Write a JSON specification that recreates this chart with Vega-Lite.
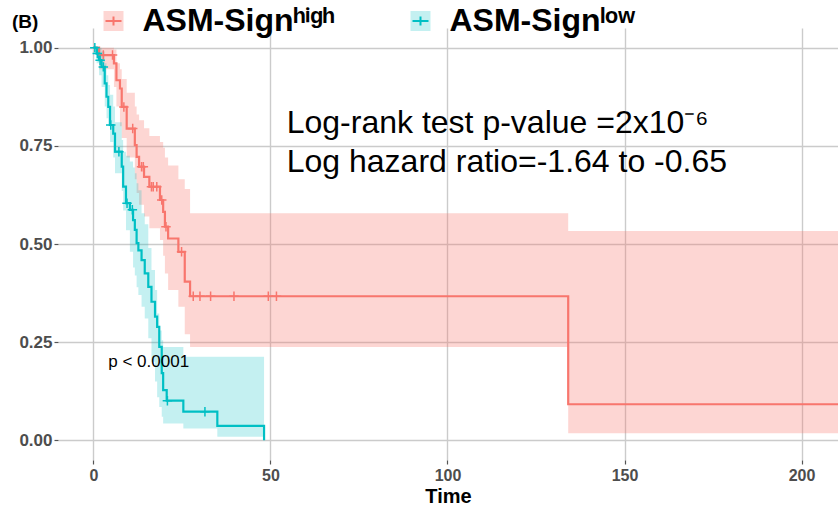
{
  "$schema": "https://vega.github.io/schema/vega-lite/v6.json",
  "width": 780,
  "height": 432,
  "autosize": {"type": "none"},
  "padding": {"left": 58, "top": 28, "right": 0, "bottom": 49},
  "background": "white",
  "title": {"text": "(B)", "anchor": "start", "frame": "group", "orient": "top", "offset": 0, "dx": -46, "dy": 27, "fontSize": 19, "fontWeight": "bold", "font": "Liberation Sans", "color": "#000000"},
  "config": {
    "view": {"stroke": null},
    "font": "Liberation Sans",
    "axis": {"grid": true, "gridColor": "#CBCBCB", "gridWidth": 1.4, "domain": false, "tickColor": "#555555", "tickSize": 4, "tickWidth": 1.2, "labelFont": "Liberation Sans", "labelFontWeight": "bold", "labelFontSize": 16, "labelColor": "#4D4D4D", "titleFont": "Liberation Sans", "titleFontWeight": "bold", "titleFontSize": 20, "titleColor": "#000000"},
    "axisY": {"labelPadding": 2, "format": ".2f", "labelFontSize": 17},
    "axisX": {"labelPadding": 3, "titlePadding": 3}
  },
  "datasets": {
    "bands": [
      {"time": 0, "lower": 1, "upper": 1, "grp": "high CI"},
      {"time": 1.6, "lower": 0.945, "upper": 1, "grp": "high CI"},
      {"time": 5.8, "lower": 0.9, "upper": 0.995, "grp": "high CI"},
      {"time": 6.5, "lower": 0.85, "upper": 0.96, "grp": "high CI"},
      {"time": 7.5, "lower": 0.8, "upper": 0.945, "grp": "high CI"},
      {"time": 8.0, "lower": 0.77, "upper": 0.92, "grp": "high CI"},
      {"time": 9.4, "lower": 0.72, "upper": 0.885, "grp": "high CI"},
      {"time": 11.7, "lower": 0.665, "upper": 0.85, "grp": "high CI"},
      {"time": 12.2, "lower": 0.63, "upper": 0.83, "grp": "high CI"},
      {"time": 12.9, "lower": 0.6, "upper": 0.815, "grp": "high CI"},
      {"time": 14.3, "lower": 0.57, "upper": 0.795, "grp": "high CI"},
      {"time": 15.8, "lower": 0.54, "upper": 0.775, "grp": "high CI"},
      {"time": 18.8, "lower": 0.51, "upper": 0.76, "grp": "high CI"},
      {"time": 19.7, "lower": 0.47, "upper": 0.745, "grp": "high CI"},
      {"time": 20.2, "lower": 0.425, "upper": 0.72, "grp": "high CI"},
      {"time": 21.1, "lower": 0.383, "upper": 0.7, "grp": "high CI"},
      {"time": 24.0, "lower": 0.34, "upper": 0.665, "grp": "high CI"},
      {"time": 25.8, "lower": 0.27, "upper": 0.64, "grp": "high CI"},
      {"time": 27.3, "lower": 0.238, "upper": 0.578, "grp": "high CI"},
      {"time": 134.1, "lower": 0.018, "upper": 0.533, "grp": "high CI"},
      {"time": 230, "lower": 0.018, "upper": 0.533, "grp": "high CI"},
      {"time": 0, "lower": 1, "upper": 1, "grp": "low CI"},
      {"time": 0.9, "lower": 0.96, "upper": 1, "grp": "low CI"},
      {"time": 1.6, "lower": 0.93, "upper": 1, "grp": "low CI"},
      {"time": 2.3, "lower": 0.9, "upper": 0.99, "grp": "low CI"},
      {"time": 3.2, "lower": 0.85, "upper": 0.96, "grp": "low CI"},
      {"time": 3.7, "lower": 0.82, "upper": 0.93, "grp": "low CI"},
      {"time": 4.2, "lower": 0.8, "upper": 0.905, "grp": "low CI"},
      {"time": 4.7, "lower": 0.76, "upper": 0.88, "grp": "low CI"},
      {"time": 5.6, "lower": 0.72, "upper": 0.85, "grp": "low CI"},
      {"time": 6.1, "lower": 0.68, "upper": 0.81, "grp": "low CI"},
      {"time": 8.0, "lower": 0.635, "upper": 0.765, "grp": "low CI"},
      {"time": 8.4, "lower": 0.585, "upper": 0.735, "grp": "low CI"},
      {"time": 9.2, "lower": 0.535, "upper": 0.725, "grp": "low CI"},
      {"time": 10.3, "lower": 0.48, "upper": 0.71, "grp": "low CI"},
      {"time": 11.2, "lower": 0.44, "upper": 0.695, "grp": "low CI"},
      {"time": 11.7, "lower": 0.42, "upper": 0.68, "grp": "low CI"},
      {"time": 12.2, "lower": 0.39, "upper": 0.655, "grp": "low CI"},
      {"time": 12.7, "lower": 0.37, "upper": 0.637, "grp": "low CI"},
      {"time": 13.6, "lower": 0.34, "upper": 0.578, "grp": "low CI"},
      {"time": 14.5, "lower": 0.31, "upper": 0.55, "grp": "low CI"},
      {"time": 15.5, "lower": 0.26, "upper": 0.49, "grp": "low CI"},
      {"time": 16.4, "lower": 0.2, "upper": 0.434, "grp": "low CI"},
      {"time": 17.4, "lower": 0.15, "upper": 0.383, "grp": "low CI"},
      {"time": 18.0, "lower": 0.11, "upper": 0.323, "grp": "low CI"},
      {"time": 18.6, "lower": 0.085, "upper": 0.28, "grp": "low CI"},
      {"time": 19.3, "lower": 0.06, "upper": 0.255, "grp": "low CI"},
      {"time": 19.7, "lower": 0.043, "upper": 0.238, "grp": "low CI"},
      {"time": 25.4, "lower": 0.03, "upper": 0.213, "grp": "low CI"},
      {"time": 35.0, "lower": 0.009, "upper": 0.213, "grp": "low CI"},
      {"time": 48.2, "lower": 0.009, "upper": 0.213, "grp": "low CI"}
    ],
    "lines": [
      {"time": 0, "surv": 1, "group": "high"},
      {"time": 1.6, "surv": 0.981, "group": "high"},
      {"time": 5.8, "surv": 0.96, "group": "high"},
      {"time": 6.5, "surv": 0.917, "group": "high"},
      {"time": 7.5, "surv": 0.896, "group": "high"},
      {"time": 8.0, "surv": 0.849, "group": "high"},
      {"time": 9.4, "surv": 0.794, "group": "high"},
      {"time": 11.7, "surv": 0.752, "group": "high"},
      {"time": 12.2, "surv": 0.722, "group": "high"},
      {"time": 12.9, "surv": 0.697, "group": "high"},
      {"time": 14.3, "surv": 0.671, "group": "high"},
      {"time": 15.8, "surv": 0.646, "group": "high"},
      {"time": 18.8, "surv": 0.612, "group": "high"},
      {"time": 19.7, "surv": 0.582, "group": "high"},
      {"time": 20.2, "surv": 0.544, "group": "high"},
      {"time": 21.1, "surv": 0.514, "group": "high"},
      {"time": 24.0, "surv": 0.48, "group": "high"},
      {"time": 25.8, "surv": 0.404, "group": "high"},
      {"time": 27.3, "surv": 0.367, "group": "high"},
      {"time": 134.1, "surv": 0.092, "group": "high"},
      {"time": 230, "surv": 0.092, "group": "high"},
      {"time": 0, "surv": 1, "group": "low"},
      {"time": 0.9, "surv": 0.985, "group": "low"},
      {"time": 1.6, "surv": 0.968, "group": "low"},
      {"time": 2.3, "surv": 0.951, "group": "low"},
      {"time": 3.2, "surv": 0.909, "group": "low"},
      {"time": 3.7, "surv": 0.875, "group": "low"},
      {"time": 4.2, "surv": 0.849, "group": "low"},
      {"time": 4.7, "surv": 0.803, "group": "low"},
      {"time": 5.6, "surv": 0.781, "group": "low"},
      {"time": 6.1, "surv": 0.735, "group": "low"},
      {"time": 8.0, "surv": 0.697, "group": "low"},
      {"time": 8.4, "surv": 0.646, "group": "low"},
      {"time": 9.2, "surv": 0.604, "group": "low"},
      {"time": 10.3, "surv": 0.587, "group": "low"},
      {"time": 11.2, "surv": 0.561, "group": "low"},
      {"time": 11.7, "surv": 0.536, "group": "low"},
      {"time": 12.2, "surv": 0.502, "group": "low"},
      {"time": 12.7, "surv": 0.484, "group": "low"},
      {"time": 13.6, "surv": 0.459, "group": "low"},
      {"time": 14.5, "surv": 0.425, "group": "low"},
      {"time": 15.5, "surv": 0.391, "group": "low"},
      {"time": 16.4, "surv": 0.353, "group": "low"},
      {"time": 17.4, "surv": 0.315, "group": "low"},
      {"time": 18.0, "surv": 0.289, "group": "low"},
      {"time": 18.6, "surv": 0.238, "group": "low"},
      {"time": 19.3, "surv": 0.171, "group": "low"},
      {"time": 19.7, "surv": 0.128, "group": "low"},
      {"time": 20.7, "surv": 0.101, "group": "low"},
      {"time": 25.4, "surv": 0.073, "group": "low"},
      {"time": 35.0, "surv": 0.037, "group": "low"},
      {"time": 48.2, "surv": 0.0, "group": "low"}
    ],
    "censor": [
      {"time": 2.8, "surv": 0.981, "group": "high"},
      {"time": 5.4, "surv": 0.981, "group": "high"},
      {"time": 8.6, "surv": 0.849, "group": "high"},
      {"time": 11.1, "surv": 0.794, "group": "high"},
      {"time": 13.6, "surv": 0.697, "group": "high"},
      {"time": 14.1, "surv": 0.697, "group": "high"},
      {"time": 16.4, "surv": 0.646, "group": "high"},
      {"time": 16.9, "surv": 0.646, "group": "high"},
      {"time": 17.9, "surv": 0.646, "group": "high"},
      {"time": 19.3, "surv": 0.612, "group": "high"},
      {"time": 20.5, "surv": 0.544, "group": "high"},
      {"time": 24.9, "surv": 0.48, "group": "high"},
      {"time": 28.2, "surv": 0.367, "group": "high"},
      {"time": 30.1, "surv": 0.367, "group": "high"},
      {"time": 33.1, "surv": 0.367, "group": "high"},
      {"time": 39.7, "surv": 0.367, "group": "high"},
      {"time": 49.4, "surv": 0.367, "group": "high"},
      {"time": 51.7, "surv": 0.367, "group": "high"},
      {"time": 0.4, "surv": 1.0, "group": "low"},
      {"time": 1.1, "surv": 0.985, "group": "low"},
      {"time": 1.9, "surv": 0.968, "group": "low"},
      {"time": 2.8, "surv": 0.951, "group": "low"},
      {"time": 4.9, "surv": 0.803, "group": "low"},
      {"time": 7.2, "surv": 0.735, "group": "low"},
      {"time": 9.5, "surv": 0.604, "group": "low"},
      {"time": 11.0, "surv": 0.587, "group": "low"},
      {"time": 20.9, "surv": 0.101, "group": "low"},
      {"time": 31.5, "surv": 0.073, "group": "low"}
    ],
    "notes": [
      {"time": 54.6, "surv": 0.782, "label": "Log-rank test p-value =2x10⁻⁶"},
      {"time": 54.6, "surv": 0.684, "label": "Log hazard ratio=-1.64 to -0.65"}
    ],
    "pval": [
      {"time": 4.2, "surv": 0.186, "label": "p < 0.0001"}
    ]
  },
  "layer": [
    {
      "data": {"name": "bands"},
      "mark": {"type": "area", "interpolate": "step-after", "clip": true},
      "encoding": {
        "x": {"field": "time", "type": "quantitative", "scale": {"domain": [-10, 210.3], "nice": false, "zero": false}, "axis": {"values": [0, 50, 100, 150, 200], "title": "Time"}},
        "y": {"field": "lower", "type": "quantitative", "scale": {"domain": [-0.05, 1.05], "nice": false, "zero": false}, "axis": {"values": [0, 0.25, 0.5, 0.75, 1], "title": null}},
        "y2": {"field": "upper"},
        "fill": {"field": "grp", "type": "nominal", "scale": {"domain": ["high CI", "low CI"], "range": ["rgba(248,118,109,0.3)", "rgba(0,191,196,0.23)"]},
          "legend": {"orient": "none", "legendX": 39.5, "legendY": -23, "direction": "horizontal", "title": null, "padding": 0, "symbolType": "square", "symbolSize": 400, "symbolStrokeWidth": 2, "symbolStrokeColor": "transparent", "symbolOpacity": 1, "labelFont": "Liberation Sans", "labelFontSize": 32, "labelFontWeight": "bold", "labelColor": "rgba(0,0,0,0)", "labelOffset": 13, "columnPadding": 69, "labelLimit": 400, "labelExpr": "datum.value === 'high CI' ? 'ASM-Signʰⁱᵍʰ' : 'ASM-Signˡᵒʷ'"}}
      }
    },
    {
      "data": {"name": "lines"},
      "mark": {"type": "line", "interpolate": "step-after", "strokeWidth": 2.2, "clip": true},
      "encoding": {
        "x": {"field": "time", "type": "quantitative", "axis": {"values": [0, 50, 100, 150, 200], "title": "Time"}},
        "y": {"field": "surv", "type": "quantitative", "axis": {"values": [0, 0.25, 0.5, 0.75, 1], "title": null}},
        "stroke": {"field": "group", "type": "nominal", "scale": {"domain": ["high", "low"], "range": ["#F8766D", "#00BFC4"]},
          "legend": {"orient": "none", "legendX": 39.5, "legendY": -23, "direction": "horizontal", "title": null, "padding": 0, "symbolType": "M-0.8,0H0.8M0,-0.45V0.45", "symbolSize": 400, "symbolStrokeWidth": 2, "symbolFillColor": "transparent", "symbolOpacity": 1, "labelFont": "Liberation Sans", "labelFontSize": 32, "labelFontWeight": "bold", "labelColor": "#000000", "labelOffset": 13, "columnPadding": 69, "labelLimit": 400, "labelExpr": "datum.value === 'high' ? 'ASM-Signʰⁱᵍʰ' : 'ASM-Signˡᵒʷ'"}}
      }
    },
    {
      "data": {"name": "censor"},
      "mark": {"type": "point", "shape": "M-1,0H1M0,-1V1", "filled": false, "size": 90, "strokeWidth": 1.5, "opacity": 1, "clip": true},
      "encoding": {
        "x": {"field": "time", "type": "quantitative"},
        "y": {"field": "surv", "type": "quantitative"},
        "stroke": {"field": "group", "type": "nominal",
          "legend": {"orient": "none", "legendX": 39.5, "legendY": -23, "direction": "horizontal", "title": null, "padding": 0, "symbolType": "M-0.8,0H0.8M0,-0.45V0.45", "symbolSize": 400, "symbolStrokeWidth": 2, "symbolFillColor": "transparent", "symbolOpacity": 1, "labelFont": "Liberation Sans", "labelFontSize": 32, "labelFontWeight": "bold", "labelColor": "#000000", "labelOffset": 13, "columnPadding": 69, "labelLimit": 400, "labelExpr": "datum.value === 'high' ? 'ASM-Signʰⁱᵍʰ' : 'ASM-Signˡᵒʷ'"}}
      }
    },
    {
      "data": {"name": "notes"},
      "mark": {"type": "text", "align": "left", "baseline": "alphabetic", "font": "Liberation Sans", "fontSize": 32, "color": "#000000"},
      "encoding": {
        "x": {"field": "time", "type": "quantitative"},
        "y": {"field": "surv", "type": "quantitative"},
        "text": {"field": "label"}
      }
    },
    {
      "data": {"name": "pval"},
      "mark": {"type": "text", "align": "left", "baseline": "alphabetic", "font": "Liberation Sans", "fontSize": 17, "color": "#000000"},
      "encoding": {
        "x": {"field": "time", "type": "quantitative"},
        "y": {"field": "surv", "type": "quantitative"},
        "text": {"field": "label"}
      }
    }
  ]
}
